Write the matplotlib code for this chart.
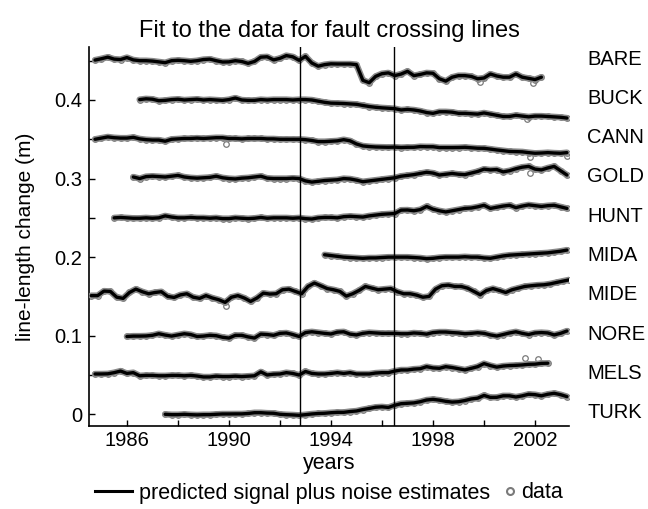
import numpy as np
import matplotlib
matplotlib.use("Agg")
import matplotlib.pyplot as plt
import matplotlib.transforms as mtransforms
from matplotlib.lines import Line2D
import matplotlib.patheffects as pe

plt.rcParams['font.family'] = ['Liberation Sans', 'DejaVu Sans']

# station lines, top to bottom
names = ['BARE', 'BUCK', 'CANN', 'GOLD', 'HUNT', 'MIDA', 'MIDE', 'NORE', 'MELS', 'TURK']
# first epoch of each series (decimal years), samples every quarter year
starts = [1984.75, 1986.5, 1984.75, 1986.25, 1985.5, 1993.75, 1984.6, 1986.0, 1984.75, 1987.5]
step = 0.25

# line-length change in mm
bare = [0.8, 2.5, 4.5, 2.0, 1.5, 4.0, 1.0, 0, 0, -0.5, -1.5, -2.5, 0, 0.5, 0, -0.8, 0, 1.5, 2.0, 0,
        -1.7, -1.5, 0, -1.0, -3.4, -1.0, 4.5, 5.0, 1.0, 3.0, 6.5, 5.0, 0.5, 5.5, -3.0, -7.0, -5.0, -4.0, -4.2,
        -4.2, -4.2, -5, -25, -28, -20, -16.5, -15.5, -19, -17, -13.5, -19, -17.5, -15.5, -16, -23, -26, -21,
        -19, -19, -20, -23, -22, -17, -19.5, -21, -21, -17, -21, -22.5, -24, -21]
buck = [0.5, 1.5, 1, -1, -0.5, 0.5, 1, 0, 0.5, 1, 0, 0.5, 0, -0.5, 0.5, 2.5, 0, -0.5, -0.5, 0.5,
        0, 0.5, 0.5, 0.5, 0, 0.5, 0.5, 0, -1.5, -3, -4, -4.2,
        -4.5, -5, -5.5, -7, -8.3, -9.3, -10, -10.5, -11, -12.7, -12, -12.7, -14, -16, -17, -15, -15, -15.5,
        -17, -17, -17.5, -18, -16.5, -18, -19.5, -21, -21, -19.5, -20.5, -21.5, -20.5, -20.5, -21, -21.5, -22, -23]
cann = [0, 1.5, 3, 2, 1.5, 1.5, 2.5, 0.5, -0.5, -1, -1, -2.5, 0, 0.5, 1, 1, 1.5, 1, 1.5, 2, 2, 1, 1, 0.5,
        1, 1, 1, 0.5, 0.5, 0, 0, 0, 0, -0.5, -1.5, -3, -3, -2.5, -2,
        -0.5, -2, -6, -8.5, -9.3, -9.8, -10, -10.2, -10, -10.5, -10.2, -10.2, -9.3, -9.5, -9.5, -10.6, -10.6,
        -10.6, -10.5, -10.2, -10.8, -11.4, -11.5, -12.5, -13.6, -14.5, -15.5, -15.7, -16, -17, -17.8, -17.5,
        -17, -17.5, -17.8, -17]
gold = [2, 0, 2.5, 3, 2.5, 2, 3, 4, 2, 1, 0.5, 1, 1.5, 3, 1, 0, -0.5, 0.5, 1, 2, 3, 0.5, 0, 0, 0, 0.5,
        0, -3, -4.5, -3.5, -2.5, -2, -1.5,
        0, -0.5, -2, -4, -3, -2, -1, 0, 1, 3, 4, 5, 6.5, 8, 7, 4.5, 5.5, 6.5, 5.5, 5, 7, 9, 12, 11, 11.5,
        8.5, 10, 12.5, 14.5, 15.5, 12, 11, 13.5, 15.5, 10, 4.5]
hunt = [0, 0.5, 0, -0.5, -0.5, 0, -0.5, 0, 2.5, 1, 0, 0, 0.5, 0, 0, -0.5, 0, -1, -1, 0, -0.5, -1, -0.5,
        0.5, -0.5, 0, 0, 0, -0.5, 0, -1, -1.5, 0, 0.5, 0.5, 0,
        1.5, 2, 1.5, 1, 2.5, 3.5, 4.5, 5, 5.5, 9.8, 10, 9, 10.5, 14.5, 11, 9, 7.5, 9, 10.5, 12, 12.5, 14, 16,
        12, 13.5, 15, 16, 13, 15, 16.5, 15.5, 14.5, 15.5, 16, 14, 12]
mida = [3, 2, 1,
        0, -0.5, -1, -1.5, -1, -1, -0.5, 0, 0, 0, 0, -0.5, -1, -2, -1.5, -0.5, 0, 0, 0, 0.5, 0, 0, -1, -1.5,
        0, 1.5, 2.5, 3, 3.5, 4, 4.5, 5, 5.5, 6.5, 7.5, 9]
mide = [1, 1, 6.8, 6.4, -1, -2.5, 5, 9.3, 6, 3.4, 5, 6, 0, -1.3, 2, 3.4, -1, -2.5, 1, -2, -4.2, -7.6, -1,
        1, -2, -6.4, -2, 4.2, 3, 3.4, 8.5, 9.3, 6.4, 3.4, 12.7, 17, 13.6, 10, 8.5, 6.4,
        0.4, 3.4, 7.6, 12.7, 10.6, 8.5, 9.3, 10, 6, 3.4, 3.4, 1.7, -1, 0, 9.3, 13.6, 14.4, 12.7, 12.7, 10.6,
        6.4, 2.1, 7.6, 10, 7.6, 5, 8.5, 10.6, 12.7, 13.6, 14.4, 14.8, 16, 17.8, 19.5, 21.2]
nore = [-1, -0.5, -0.5, -0.3, 0.5, 2.5, 0.8, -0.5, 1, 2.5, 1.5, -1, -0.5, 0.5, 0, -2, -3, 0.5, 0.5, -1.5,
        -3, 2, 1.5, 0.5, 3, 3.5, 1.5, -1, 4, 5, 4, 3, 2.2, 4.5,
        5, 2, 1, 3, 4, 3.5, 3, 3, 3, 2.5, 2.5, 3.5, 3, 2, 4, 4.7, 4.7, 4, 3.5, 2.5, 3, 3.8, 3, 1, -0.4, 1.5,
        3.5, 5, 3, 1.5, 3.5, 4, 3.5, 1, 3, 6]
mels = [1.3, 1.3, 1.5, 3, 5, 2, 3, -1, -0.5, -0.5, -1, -1, -0.5, -0.5, -1, -0.5, -1.3, -2.5, -2.5, -1.5,
        -2, -2, -1.5, -2, -1.5, -1, 4, 0, 1, 1.3, 3, 2, 0, 4.5, 2, 1.3, 1.3, 2, 3,
        2, 3, 1.3, 1.3, 1.3, 2.5, 3, 3, 5, 6.4, 6.4, 7.5, 8, 10.6, 9, 8.5, 10.6, 9.5, 8, 6.5, 8.5, 10.6, 14.5,
        12, 10, 11.4, 12, 12.3, 12.8, 13.6, 13.8, 14.8, 15]
turk = [0, -0.5, -0.5, 0, -0.5, -0.8, -0.5, -0.5, 0, 0.4, 0.4, 0.5, 0.5, 1, 2, 2, 1.5, 1.3, 0, -0.5, -0.8,
        -1.3, -0.5, 0.4, 1, 1.3, 2, 2.5,
        2.5, 3.5, 4.2, 6, 7.4, 9, 9.5, 8.7, 11.5, 13.5, 14, 14.5, 16, 18.2, 19, 18, 16.5, 15.5, 16, 17.5, 19.5,
        20.5, 24, 21.5, 21.6, 23.5, 23.5, 22, 23.5, 25.5, 25, 23.5, 25.5, 26.7, 25, 22.5]
series = [bare, buck, cann, gold, hunt, mida, mide, nore, mels, turk]

# stray data points that sit off the fitted curve
out_station = ['BARE', 'BARE', 'BUCK', 'CANN', 'CANN', 'CANN', 'GOLD', 'MIDE', 'MELS', 'MELS']
out_year = [1999.85, 2001.93, 2001.7, 1989.9, 2001.8, 2003.24, 2001.8, 1989.9, 2001.6, 2002.13]
out_mm = [-26.7, -28, -24.6, -5.9, -22, -21.2, 6.6, -12, 22, 20]

events = [1992.78, 1996.48]
xticks = [1986, 1988, 1990, 1992, 1994, 1996, 1998, 2000, 2002]
xlabels = ['1986', '', '1990', '', '1994', '', '1998', '', '2002']
yticks = [0, 0.05, 0.1, 0.15, 0.2, 0.25, 0.3, 0.35, 0.4, 0.45]
ylabels = ['0', '', '0.1', '', '0.2', '', '0.3', '', '0.4', '']

fig = plt.figure(figsize=(6.48, 5.09), dpi=100)
ax = fig.add_axes([0.138, 0.1637, 0.740, 0.7433])

spacing = 0.05
halo = [pe.Stroke(linewidth=4.6, foreground='#8a8a8a'), pe.Normal()]
for i, (name, t0, vals) in enumerate(zip(names, starts, series)):
    off = spacing * (len(names) - 1 - i)
    t = t0 + step * np.arange(len(vals))
    y = off + np.array(vals) / 1000.0
    ax.plot(t, y, linestyle='none', marker='o', ms=4, mfc='none', mec='#7a7a7a', mew=0.9, zorder=2)
    ax.plot(t, y, color='black', lw=2.4, solid_capstyle='round', path_effects=halo, zorder=3)
    ax.text(1.038, off + 0.002, name, transform=mtransforms.blended_transform_factory(ax.transAxes, ax.transData),
            ha='left', va='center', fontsize=14.5, clip_on=False)

for st, yr, mm in zip(out_station, out_year, out_mm):
    off = spacing * (len(names) - 1 - names.index(st))
    ax.plot(yr, off + mm / 1000.0, linestyle='none', marker='o', ms=4, mfc='none', mec='#7a7a7a', mew=0.9, zorder=2)

for ev in events:
    ax.axvline(ev, color='black', lw=1.0, zorder=4)

ax.set_xlim(1984.53, 2003.33)
ax.set_ylim(-0.0145, 0.467)
ax.set_xticks(xticks)
ax.set_xticklabels(xlabels)
ax.set_yticks(yticks)
ax.set_yticklabels(ylabels)
ax.tick_params(direction='in', length=4.5, width=1.0, labelsize=14.5)
ax.tick_params(axis='x', pad=4)
ax.tick_params(axis='y', pad=5)
for s in ['top', 'right']:
    ax.spines[s].set_visible(False)
for s in ['left', 'bottom']:
    ax.spines[s].set_linewidth(1.2)

ax.set_title('Fit to the data for fault crossing lines', fontsize=17, pad=7.5)
ax.set_xlabel('years', fontsize=15.5, labelpad=2)
ax.set_ylabel('line-length change (m)', fontsize=15, labelpad=14)

h_line = Line2D([], [], color='black', lw=2.2)
h_data = Line2D([], [], linestyle='none', marker='o', ms=5, mfc='none', mec='#7a7a7a', mew=1.5)
leg1 = fig.legend([h_line], ['predicted signal plus noise estimates'], loc='center left',
                  bbox_to_anchor=(95 / 648, 1 - 493 / 509), frameon=False, fontsize=15.5,
                  handlelength=1.7, handletextpad=0.35, borderpad=0, borderaxespad=0)
leg2 = fig.legend([h_data], ['data'], loc='center left',
                  bbox_to_anchor=(501 / 648, 1 - 493 / 509), frameon=False, fontsize=15.5,
                  handlelength=0.8, handletextpad=0.15, borderpad=0, borderaxespad=0)

fig.savefig('out.png', dpi=100)
